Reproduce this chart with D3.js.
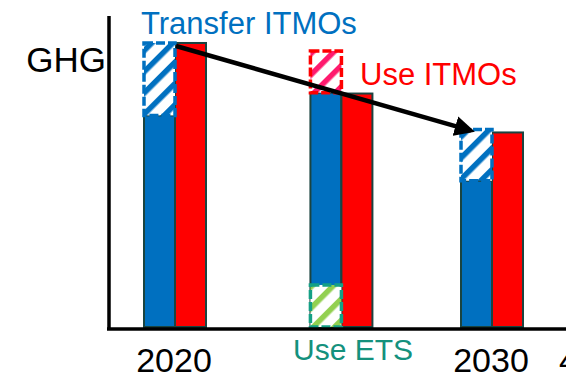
<!DOCTYPE html>
<meta charset="utf-8">
<style>
    body { margin: 0; background: #fff; }
    svg { font-family: "Liberation Sans", Arial, sans-serif; display: block; }
</style>
<body>
<script src="https://cdn.jsdelivr.net/npm/d3@7"></script>
<script>
    // chart data (GHG in arbitrary units, 2020 = 100)
    const years = [2020, 2025.25, 2030];
    const yearLabels = ["2020", "", "2030"];
    const bauValues = [74.5, 82.5, 51.5];     // blue bars
    const targetValues = [100, 82.2, 68.5];   // red bars
    // hatched boxes: column index, bottom, top, kind
    const hatchCol = [0, 1, 1, 2];
    const hatchLow = [74.5, 82.5, 0, 51.5];
    const hatchHigh = [100, 97.2, 14.8, 69.5];
    const hatchKind = ["transfer", "use", "ets", "transfer"];

    const width = 566, height = 376;
    const barW = 31;

    const svg = d3.select("body").append("svg")
        .attr("width", width)
        .attr("height", height);

    const x = d3.scaleLinear().domain([2020, 2030]).range([175, 492]);
    const y = d3.scaleLinear().domain([0, 109.5]).range([327, 16]);

    const styles = {
        transfer: {stripe: "#0070c0", border: "#0070c0"},
        use: {stripe: "#ff1a6e", border: "#ff0000"},
        ets: {stripe: "#92d050", border: "#14a085"}
    };

    const defs = svg.append("defs");
    Object.keys(styles).forEach(k => {
        const p = defs.append("pattern")
            .attr("id", "hatch-" + k)
            .attr("patternUnits", "userSpaceOnUse")
            .attr("width", 15).attr("height", 15)
            .attr("patternTransform", "rotate(45)");
        p.append("rect").attr("width", 15).attr("height", 15).attr("fill", "#fff");
        p.append("rect").attr("width", 5.5).attr("height", 15).attr("fill", styles[k].stripe);
    });
    defs.append("marker")
        .attr("id", "arrowhead")
        .attr("viewBox", "0 0 10 10")
        .attr("refX", 8).attr("refY", 5)
        .attr("markerWidth", 4.5).attr("markerHeight", 4.5)
        .attr("orient", "auto")
        .append("path")
        .attr("d", "M0,0 L10,5 L0,10 Z")
        .attr("fill", "#000");

    // bars
    const idx = d3.range(years.length);
    svg.append("g").selectAll("rect")
        .data(idx)
        .join("rect")
        .attr("x", i => x(years[i]) - barW)
        .attr("y", i => y(bauValues[i]))
        .attr("width", barW)
        .attr("height", i => y(0) - y(bauValues[i]))
        .attr("fill", "#0070c0")
        .attr("stroke", "#1a4440")
        .attr("stroke-width", 2);

    svg.append("g").selectAll("rect")
        .data(idx)
        .join("rect")
        .attr("x", i => x(years[i]))
        .attr("y", i => y(targetValues[i]))
        .attr("width", barW)
        .attr("height", i => y(0) - y(targetValues[i]))
        .attr("fill", "#ff0000")
        .attr("stroke", "#1a4440")
        .attr("stroke-width", 2);

    // hatched boxes
    svg.append("g").selectAll("rect")
        .data(d3.range(hatchCol.length))
        .join("rect")
        .attr("x", i => x(years[hatchCol[i]]) - barW)
        .attr("y", i => y(hatchHigh[i]))
        .attr("width", barW)
        .attr("height", i => y(hatchLow[i]) - y(hatchHigh[i]))
        .attr("fill", i => "url(#hatch-" + hatchKind[i] + ")")
        .attr("stroke", i => styles[hatchKind[i]].border)
        .attr("stroke-width", 3.5)
        .attr("stroke-dasharray", "9,3");

    // axes
    svg.append("line")
        .attr("x1", 109).attr("x2", 109)
        .attr("y1", y(109.5)).attr("y2", y(0) + 3)
        .attr("stroke", "#000").attr("stroke-width", 3.5);
    svg.append("line")
        .attr("x1", 107).attr("x2", width)
        .attr("y1", y(0) + 2).attr("y2", y(0) + 2)
        .attr("stroke", "#000").attr("stroke-width", 3.5);

    // arrow from 2020 total down to 2030 target
    svg.append("line")
        .attr("x1", x(years[0]) + 1).attr("y1", y(targetValues[0]) + 3)
        .attr("x2", x(years[2]) - 21).attr("y2", y(hatchHigh[3]) + 1)
        .attr("stroke", "#000")
        .attr("stroke-width", 4.5)
        .attr("marker-end", "url(#arrowhead)");

    // texts
    svg.append("text")
        .attr("x", 106).attr("y", 72)
        .attr("text-anchor", "end")
        .style("font-size", "35px")
        .text("GHG");

    svg.selectAll("text.year")
        .data(idx.filter(i => yearLabels[i] !== ""))
        .join("text")
        .attr("class", "year")
        .attr("x", i => x(years[i]) - 1)
        .attr("y", 372)
        .attr("text-anchor", "middle")
        .style("font-size", "34px")
        .text(i => yearLabels[i]);

    svg.append("text")
        .attr("x", 559).attr("y", 372)
        .style("font-size", "34px")
        .text("4");

    svg.append("text")
        .attr("x", 141).attr("y", 34)
        .attr("fill", "#0070c0")
        .style("font-size", "31px")
        .text("Transfer ITMOs");

    svg.append("text")
        .attr("x", 360).attr("y", 85)
        .attr("fill", "#ff0000")
        .style("font-size", "31px")
        .text("Use ITMOs");

    svg.append("text")
        .attr("x", 293).attr("y", 360)
        .attr("fill", "#14917d")
        .style("font-size", "30px")
        .text("Use ETS");
</script>
</body>
</html>
